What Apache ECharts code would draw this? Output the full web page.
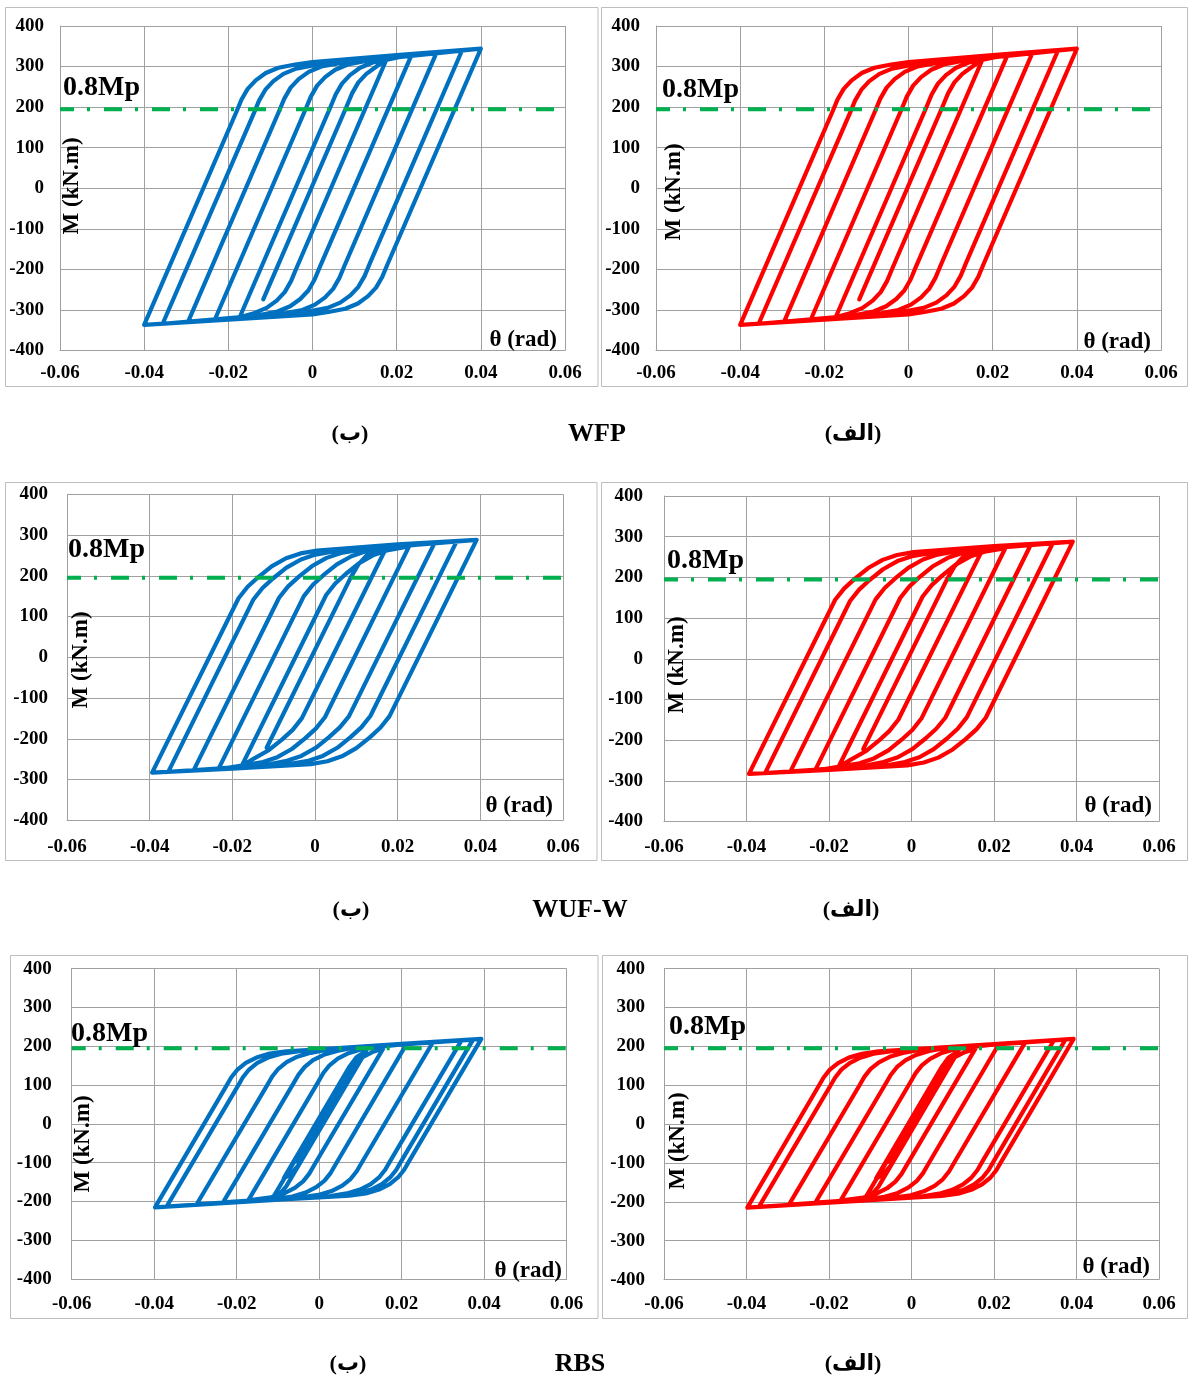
<!DOCTYPE html>
<html><head><meta charset="utf-8">
<script src="https://cdn.jsdelivr.net/npm/echarts@6/dist/echarts.min.js"></script>
<style>html,body{margin:0;padding:0;background:#fff}#c{width:1190px;height:1377px}</style>
</head><body><div id="c"></div>
<script>
const xTickLabels = ['-0.06','-0.04','-0.02','0','0.02','0.04','0.06'];
const yTickLabels = ['-400','-300','-200','-100','0','100','200','300','400'];
const mpLevel = 195;
const mpText = '0.8Mp';
const yName = 'M (kN.m)';
const xName = 'θ (rad)';
const rowCaptions = ['WFP','WUF-W','RBS'];
const panelTags = ['(ب)','(الف)'];

// WFP hysteresis (theta rad, M kN.m)
const wfpLoop = [
[-0.0117,-274],
[0.0082,204],[0.0094,234],[0.0109,261],[0.0128,282],[0.0152,300],[0.0176,318],
[-0.0039,-199],[-0.0051,-229],[-0.0066,-256],[-0.0085,-277],[-0.0109,-295],[-0.0139,-308],[-0.0173,-318],
[0.0043,201],[0.0055,231],[0.0070,258],[0.0089,279],[0.0113,297],[0.0143,310],[0.0183,318],[0.0236,330],
[0.0017,-195],[0.0005,-225],[-0.0010,-252],[-0.0029,-273],[-0.0053,-291],[-0.0083,-304],[-0.0123,-312],[-0.0233,-326],
[-0.0016,196],[-0.0004,226],[0.0011,253],[0.0030,274],[0.0054,292],[0.0084,305],[0.0124,313],[0.0295,335],
[0.0076,-191],[0.0064,-221],[0.0049,-248],[0.0030,-269],[0.0006,-287],[-0.0024,-300],[-0.0064,-308],[-0.0296,-330],
[-0.0079,191],[-0.0067,221],[-0.0052,248],[-0.0033,269],[-0.0009,287],[0.0021,300],[0.0061,308],[0.0355,339],
[0.0136,-186],[0.0124,-216],[0.0109,-243],[0.0090,-264],[0.0066,-282],[0.0036,-295],[-0.0004,-303],[-0.0356,-334],
[-0.0139,186],[-0.0127,216],[-0.0112,243],[-0.0093,264],[-0.0069,282],[-0.0039,295],[0.0001,303],[0.0400,344],
[0.0178,-188],[0.0166,-218],[0.0151,-245],[0.0132,-266],[0.0108,-284],[0.0078,-297],[0.0038,-305],[0,-311],[-0.0200,-324],[-0.0400,-337],
[-0.0181,188],[-0.0169,218],[-0.0154,245],[-0.0135,266],[-0.0111,284],[-0.0081,297],[-0.0041,305],[0,311],[0.0200,328],[0.0400,344]
];

// WUF-W hysteresis
const wufLoop = [
[-0.0117,-222],
[0.0086,195],[0.0105,228],[0.0125,250],[0.0150,264],[0.0173,270],
[-0.0032,-150],[-0.0054,-178],[-0.0080,-202],[-0.0112,-228],[-0.0147,-248],[-0.0177,-266],
[0.0027,153],[0.0049,181],[0.0075,205],[0.0107,231],[0.0142,251],[0.0177,263],[0.0217,270],[0.0230,277],
[0.0024,-147],[0.0002,-175],[-0.0024,-199],[-0.0056,-225],[-0.0091,-245],[-0.0126,-257],[-0.0166,-264],[-0.0234,-275],
[-0.0027,150],[-0.0005,178],[0.0021,202],[0.0053,228],[0.0088,248],[0.0123,260],[0.0163,267],[0.0290,282],
[0.0082,-145],[0.0060,-172],[0.0034,-196],[0.0002,-222],[-0.0033,-242],[-0.0068,-254],[-0.0108,-262],[-0.0294,-278],
[-0.0087,146],[-0.0065,174],[-0.0039,198],[-0.0007,224],[0.0028,244],[0.0063,256],[0.0103,263],[0.0343,285],
[0.0134,-144],[0.0112,-172],[0.0086,-196],[0.0054,-222],[0.0019,-242],[-0.0016,-254],[-0.0056,-261],[-0.0355,-281],
[-0.0149,142],[-0.0127,170],[-0.0101,194],[-0.0069,220],[-0.0034,240],[0.0001,252],[0.0041,259],[0.0391,288],
[0.0180,-145],[0.0158,-173],[0.0132,-197],[0.0100,-223],[0.0065,-243],[0.0030,-255],[-0.0010,-262],[-0.0200,-273],[-0.0394,-283],
[-0.0185,145],[-0.0163,173],[-0.0137,197],[-0.0105,223],[-0.0070,243],[-0.0035,255],[0.0005,262],[0.0200,277],[0.0391,288]
];

// RBS hysteresis
const rbsLoop = [
[0,0],[0.0045,80],[-0.0040,-70],[0.0065,115],[-0.0055,-97],
[0.0070,128],[0.0088,158],[0.0110,182],
[-0.0050,-106],[-0.0066,-126],[-0.0084,-136],
[0.0072,145],[0.0089,170],[0.0112,185],
[-0.0052,-110],[-0.0068,-130],[-0.0086,-140],
[0.0074,148],[0.0091,172],[0.0114,188],
[-0.0080,-161],[-0.0093,-177],[-0.0111,-188],
[0.0056,112],[0.0068,134],[0.0083,154],[0.0103,171],[0.0129,185],[0.0155,194],
[-0.0012,-106],[-0.0024,-128],[-0.0039,-148],[-0.0059,-165],[-0.0085,-179],[-0.0117,-189],[-0.0172,-197],
[-0.0002,109],[0.0010,131],[0.0025,151],[0.0045,168],[0.0071,182],[0.0103,192],[0.0143,198],[0.0212,206],
[0.0040,-104],[0.0028,-126],[0.0013,-146],[-0.0007,-163],[-0.0033,-177],[-0.0065,-187],[-0.0105,-193],[-0.0233,-202],
[-0.0062,105],[-0.0050,127],[-0.0035,147],[-0.0015,164],[0.0011,178],[0.0043,188],[0.0083,196],[0.0276,211],
[0.0103,-100],[0.0091,-122],[0.0076,-142],[0.0056,-159],[0.0030,-173],[-0.0002,-183],[-0.0042,-189],[-0.0297,-207],
[-0.0126,100],[-0.0114,122],[-0.0099,142],[-0.0079,159],[-0.0053,173],[-0.0021,183],[0.0019,191],[0.0345,215],
[0.0172,-96],[0.0160,-118],[0.0145,-138],[0.0125,-155],[0.0099,-169],[0.0067,-179],[0.0027,-186],[-0.0370,-213],
[-0.0197,98],[-0.0185,120],[-0.0170,140],[-0.0150,157],[-0.0124,171],[-0.0092,181],[-0.0052,187],[0,192],[0.0373,217],
[0.0199,-96],[0.0187,-118],[0.0172,-138],[0.0152,-155],[0.0126,-169],[0.0094,-179],[0.0054,-185],[0,-189],[-0.0398,-215],
[-0.0225,98],[-0.0213,120],[-0.0198,140],[-0.0178,157],[-0.0152,171],[-0.0120,181],[-0.0080,187],[0,192],[0.0200,206],[0.0393,219],
[0.0218,-96],[0.0206,-118],[0.0191,-138],[0.0171,-155],[0.0145,-169],[0.0113,-179],[0.0073,-185],[0,-189],[-0.0200,-201],[-0.0398,-215]
];

const BLUE = '#0070C0', RED = '#FF0000', GREEN = '#00B050';
const panels = [
  {grid:{left:60,top:26,width:505,height:324.5}, data:wfpLoop, color:BLUE, ylm:16, xlm:13, box:[5.5,7.5,592.5,379], mp:[63,88], mk:[72,186], th:[557,340]},
  {grid:{left:656,top:26,width:505,height:324.5}, data:wfpLoop, color:RED, ylm:16, xlm:13, box:[601.5,7.5,586,379], mp:[662,90], mk:[674,192], th:[1151,342]},
  {grid:{left:67,top:494.3,width:496,height:326}, data:wufLoop, color:BLUE, ylm:19, xlm:17, box:[5.5,482.5,591.5,378], mp:[68,550], mk:[81,660], th:[553,806]},
  {grid:{left:664,top:496,width:495,height:325.5}, data:wufLoop, color:RED, ylm:21, xlm:16, box:[601.5,482.5,586,378], mp:[667,561], mk:[677,665], th:[1152,806]},
  {grid:{left:71.7,top:968.6,width:495,height:310.6}, data:rbsLoop, color:BLUE, ylm:20, xlm:15, box:[10.5,955.5,587.5,363], mp:[71,1034], mk:[83,1144], th:[562,1271]},
  {grid:{left:664,top:968.6,width:495,height:311}, data:rbsLoop, color:RED, ylm:19, xlm:15, box:[602.5,955.5,585,363], mp:[669,1027], mk:[678,1141], th:[1150,1267]}
];
const captionRows = [434, 910, 1364];
const captionX = [[350,597,853],[351,580,851],[348,580,853]];

const SERIF = '"Liberation Serif","Times New Roman",serif';
const GRIDC = '#a0a0a0';
const grids = [], xAxes = [], yAxes = [], series = [], graphics = [];
panels.forEach((p, i) => {
  grids.push(Object.assign({containLabel:false}, p.grid));
  xAxes.push({type:'value', gridIndex:i, min:-0.06, max:0.06, interval:0.02,
    axisLine:{show:true, onZero:false, lineStyle:{color:GRIDC, width:1}},
    axisTick:{show:false},
    splitLine:{show:true, lineStyle:{color:GRIDC, width:1}},
    axisLabel:{margin:p.xlm, color:'#000', fontFamily:SERIF, fontWeight:'bold', fontSize:19,
      formatter:v => xTickLabels[Math.round((v + 0.06) / 0.02)]}});
  yAxes.push({type:'value', gridIndex:i, min:-400, max:400, interval:100,
    axisLine:{show:true, onZero:false, lineStyle:{color:GRIDC, width:1}},
    axisTick:{show:false},
    splitLine:{show:true, lineStyle:{color:GRIDC, width:1}},
    axisLabel:{margin:p.ylm, color:'#000', fontFamily:SERIF, fontWeight:'bold', fontSize:19,
      formatter:v => yTickLabels[Math.round((v + 400) / 100)]}});
  series.push({type:'line', xAxisIndex:i, yAxisIndex:i, data:p.data, showSymbol:false, symbol:'none',
    smooth:false, animation:false, silent:true, z:2,
    lineStyle:{color:p.color, width:4.2, cap:'round', join:'round'}});
  series.push({type:'line', xAxisIndex:i, yAxisIndex:i, data:[[-0.06,mpLevel],[0.06,mpLevel]], showSymbol:false, symbol:'none',
    animation:false, silent:true, z:3,
    lineStyle:{color:GREEN, width:4, type:[18,13,3,14], dashOffset:4, cap:'butt'}});
  const b = p.box;
  graphics.push({type:'rect', shape:{x:b[0], y:b[1], width:b[2], height:b[3]}, z:0,
    style:{fill:'none', stroke:'#bdbdbd', lineWidth:1}});
  graphics.push({type:'text', x:p.mp[0], y:p.mp[1], z:10,
    style:{text:mpText, font:'bold 28px ' + SERIF, fill:'#000', align:'left', verticalAlign:'middle', textAlign:'left', textVerticalAlign:'middle'}});
  graphics.push({type:'text', x:p.mk[0], y:p.mk[1], rotation:Math.PI/2, z:10,
    style:{text:yName, font:'bold 23px ' + SERIF, fill:'#000', align:'center', verticalAlign:'middle', textAlign:'center', textVerticalAlign:'middle'}});
  graphics.push({type:'text', x:p.th[0], y:p.th[1], z:10,
    style:{text:xName, font:'bold 23px ' + SERIF, fill:'#000', align:'right', verticalAlign:'middle', textAlign:'right', textVerticalAlign:'middle'}});
});
rowCaptions.forEach((c, r) => {
  const y = captionRows[r], xs = captionX[r];
  graphics.push({type:'text', x:xs[0], y:y, style:{text:panelTags[0], font:'bold 22px "Liberation Serif","DejaVu Sans",serif', fill:'#000', align:'center', verticalAlign:'middle', textAlign:'center', textVerticalAlign:'middle'}});
  graphics.push({type:'text', x:xs[1], y:y, style:{text:c, font:'bold 26px ' + SERIF, fill:'#000', align:'center', verticalAlign:'middle', textAlign:'center', textVerticalAlign:'middle'}});
  graphics.push({type:'text', x:xs[2], y:y, style:{text:panelTags[1], font:'bold 22px "Liberation Serif","DejaVu Sans",serif', fill:'#000', align:'center', verticalAlign:'middle', textAlign:'center', textVerticalAlign:'middle'}});
});

const chart = echarts.init(document.getElementById('c'), null, {renderer:'canvas'});
chart.setOption({
  backgroundColor:'#fff', animation:false,
  grid:grids, xAxis:xAxes, yAxis:yAxes, series:series, graphic:{elements:graphics}
});
</script></body></html>
